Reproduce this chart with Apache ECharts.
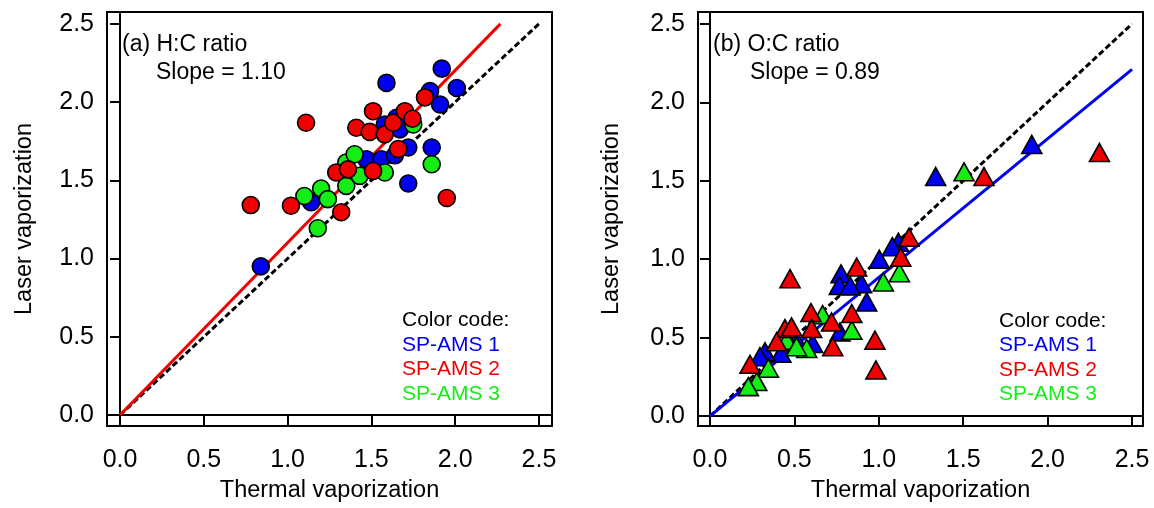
<!DOCTYPE html>
<html>
<head>
<meta charset="utf-8">
<script src="https://cdn.jsdelivr.net/npm/echarts@6/dist/echarts.min.js"></script>
<style>
html,body{margin:0;padding:0;background:#fff;}
#chart{width:1154px;height:508px;}
</style>
</head>
<body>
<div id="chart"></div>
<script>
// ---- data ----
var tickValues = [0, 0.5, 1.0, 1.5, 2.0, 2.5];
var seriesNames = ['SP-AMS 1', 'SP-AMS 2', 'SP-AMS 3'];

// (a) H:C ratio  [thermal, laser]
var hcAms1 = [[0.84,0.95],[1.14,1.36],[1.47,1.635],[1.56,1.635],[1.64,1.66],[1.72,1.71],[1.86,1.71],[1.72,1.48],[1.67,1.826],[1.65,1.90],[1.58,1.857],[1.85,2.07],[1.91,1.985],[2.01,2.09],[1.92,2.214],[1.59,2.123]];
var hcAms3 = [[1.10,1.40],[1.20,1.448],[1.24,1.38],[1.18,1.194],[1.35,1.465],[1.35,1.614],[1.40,1.667],[1.43,1.529],[1.58,1.55],[1.86,1.603],[1.75,1.857]];
var hcAms2 = [[0.78,1.342],[1.02,1.338],[1.11,1.868],[1.32,1.296],[1.29,1.55],[1.36,1.57],[1.51,1.56],[1.66,1.70],[1.95,1.387],[1.41,1.836],[1.49,1.81],[1.58,1.794],[1.63,1.868],[1.51,1.942],[1.70,1.942],[1.745,1.894],[1.82,2.03]];
var hcFit = [[0, 0], [2.27, 2.5]];
var hcSlope = '1.10';

// (b) O:C ratio
var ocAms1 = [[1.906,1.732],[1.337,1.527],[1.116,1.108],[1.08,1.08],[1.003,1.0],[0.776,0.907],[0.766,0.833],[0.898,0.844],[0.83,0.83],[0.928,0.728],[0.77,0.537],[0.608,0.463],[0.52,0.47],[0.42,0.40],[0.326,0.41],[0.296,0.379]];
var ocAms3 = [[1.505,1.557],[1.122,0.914],[1.027,0.855],[0.667,0.647],[0.84,0.548],[0.573,0.431],[0.454,0.484],[0.513,0.442],[0.346,0.305],[0.277,0.22],[0.227,0.188]];
var ocAms2 = [[2.307,1.68],[1.623,1.527],[1.179,1.14],[1.13,1.013],[0.869,0.95],[0.474,0.876],[0.598,0.66],[0.84,0.654],[0.72,0.60],[0.444,0.558],[0.483,0.569],[0.602,0.558],[0.977,0.484],[0.983,0.294],[0.727,0.442],[0.395,0.474],[0.237,0.33]];
var ocFit = [[0, 0], [2.5, 2.21]];
var ocSlope = '0.89';

var oneToOne = [[0, 0], [2.5, 2.5]];

// ---- style ----
var FONT = 'Liberation Sans, Arial, Helvetica, sans-serif';
var BLUE = '#0000f0', RED = '#f00000', GREEN = '#14ee14';

function xAx(idx, min, max) {
  return {
    gridIndex: idx, type: 'value', min: min, max: max,
    name: 'Thermal vaporization', nameLocation: 'middle', nameGap: 53,
    nameTextStyle: {fontFamily: FONT, fontSize: 23.5, color: '#000'},
    axisLine: {show: true, lineStyle: {color: '#000', width: 2}},
    axisTick: {show: true, inside: false, length: 11, lineStyle: {color: '#000', width: 2}, customValues: tickValues},
    axisLabel: {color: '#000', fontFamily: FONT, fontSize: 25, margin: 22, customValues: tickValues,
      formatter: function (v) { return v.toFixed(1); }},
    splitLine: {show: false}
  };
}
function yAx(idx, min, max, gap) {
  return {
    gridIndex: idx, type: 'value', min: min, max: max,
    name: 'Laser vaporization', nameLocation: 'middle', nameGap: gap,
    nameTextStyle: {fontFamily: FONT, fontSize: 23.5, color: '#000'},
    axisLine: {show: true, lineStyle: {color: '#000', width: 2}},
    axisTick: {show: true, inside: false, length: 10, lineStyle: {color: '#000', width: 2}, customValues: tickValues},
    axisLabel: {color: '#000', fontFamily: FONT, fontSize: 25, margin: 13, customValues: tickValues,
      formatter: function (v) { return v.toFixed(1); }},
    splitLine: {show: false}
  };
}
function pts(name, idx, data, color, symbol, size) {
  return {
    name: name, type: 'scatter', xAxisIndex: idx, yAxisIndex: idx, data: data,
    symbol: symbol, symbolSize: size,
    itemStyle: {color: color, borderColor: '#000', borderWidth: 1.6, opacity: 1},
    emphasis: {disabled: true}, z: 3
  };
}
function line(idx, data, color, type, width) {
  return {
    type: 'line', xAxisIndex: idx, yAxisIndex: idx, data: data, symbol: 'none',
    lineStyle: {color: color, type: type, width: width}, silent: true, z: 2
  };
}
function txt(x, y, s, color, size) {
  return {type: 'text', left: x, top: y, style: {text: s, fill: color, font: size + 'px ' + FONT}, z: 10};
}

var chart = echarts.init(document.getElementById('chart'), null, {renderer: 'canvas'});
chart.setOption({
  animation: false,
  backgroundColor: '#fff',
  grid: [
    {left: 107, top: 12, width: 445, height: 416, show: true, borderColor: '#000', borderWidth: 2, containLabel: false},
    {left: 698, top: 12, width: 445, height: 416, show: true, borderColor: '#000', borderWidth: 2, containLabel: false}
  ],
  xAxis: [xAx(0, -0.078, 2.578), xAx(1, -0.071, 2.565)],
  yAxis: [yAx(0, -0.07, 2.576, 70), yAx(1, -0.063, 2.576, 74)],
  series: [
    line(0, oneToOne, '#000', [6, 3], 3),
    line(0, hcFit, RED, 'solid', 3),
    pts(seriesNames[0], 0, hcAms1, BLUE, 'circle', 17),
    pts(seriesNames[2], 0, hcAms3, GREEN, 'circle', 17),
    pts(seriesNames[1], 0, hcAms2, RED, 'circle', 17),
    line(1, oneToOne, '#000', [6, 3], 3),
    line(1, ocFit, BLUE, 'solid', 3),
    pts(seriesNames[0], 1, ocAms1, BLUE, 'triangle', [20, 18]),
    pts(seriesNames[2], 1, ocAms3, GREEN, 'triangle', [20, 18]),
    pts(seriesNames[1], 1, ocAms2, RED, 'triangle', [20, 18])
  ],
  graphic: [
    txt(122, 33, '(a) H:C ratio', '#000', 23),
    txt(156, 61, 'Slope = ' + hcSlope, '#000', 23),
    txt(402, 310, 'Color code:', '#000', 21),
    txt(402, 335, seriesNames[0], BLUE, 21),
    txt(402, 359, seriesNames[1], RED, 21),
    txt(402, 384, seriesNames[2], GREEN, 21),
    txt(999, 311, 'Color code:', '#000', 21),
    txt(999, 335, seriesNames[0], BLUE, 21),
    txt(999, 360, seriesNames[1], RED, 21),
    txt(999, 384, seriesNames[2], GREEN, 21),
    txt(713, 33, '(b) O:C ratio', '#000', 23),
    txt(750, 61, 'Slope = ' + ocSlope, '#000', 23)
  ]
});
</script>
</body>
</html>
